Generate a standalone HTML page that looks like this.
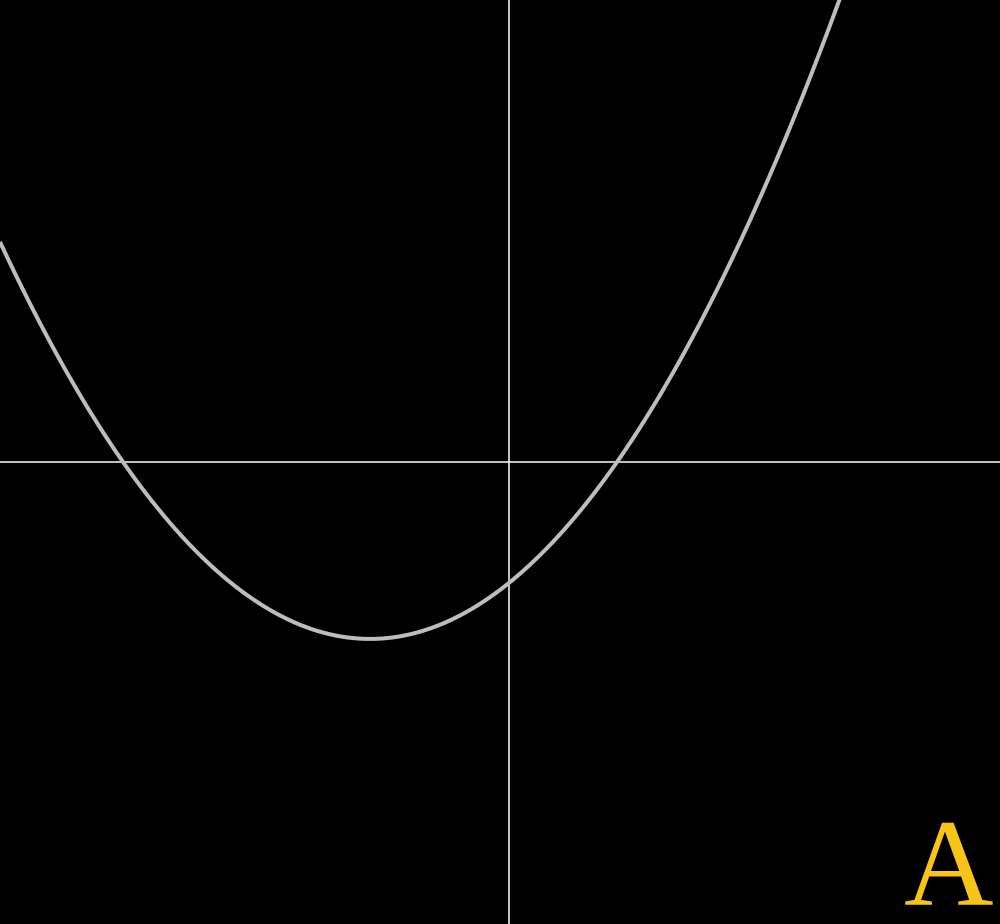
<!DOCTYPE html>
<html><head><meta charset="utf-8"><style>
html,body{margin:0;padding:0;background:#000;}
#wrap{position:relative;width:1000px;height:924px;overflow:hidden;background:#000;}
#label{position:absolute;left:904px;top:802px;font-family:"Liberation Serif",serif;font-size:124px;color:#f7c417;line-height:1;}
</style></head><body>
<div id="wrap">
<svg id="svg" width="1000" height="924">
<line x1="0" y1="462" x2="1000" y2="462" stroke="#fff" stroke-width="1.5"/>
<line x1="509" y1="0" x2="509" y2="924" stroke="#fff" stroke-width="1.5"/>
</svg>
<div id="label">A</div>
</div>
<script>
const roots = [-3.86, 1.08];
const leading = [0.29];
const scale = [100];
const origin = {x: 509, y: 462};
function sx(v){ return origin.x + v * scale[0]; }
function sy(v){ return origin.y - v * scale[0]; }
function f(x){ return leading[0] * (x - roots[0]) * (x - roots[1]); }
const svg = document.getElementById('svg');
let d = '';
const xmin = (0 - origin.x) / scale[0], xmax = (1000 - origin.x) / scale[0];
for (let i = 0; i <= 400; i++) {
  const x = xmin + (xmax - xmin) * i / 400;
  d += (i ? 'L' : 'M') + sx(x).toFixed(2) + ',' + sy(f(x)).toFixed(2);
}
const p = document.createElementNS('http://www.w3.org/2000/svg', 'path');
p.setAttribute('d', d);
p.setAttribute('fill', 'none');
p.setAttribute('stroke', '#bdbdbd');
p.setAttribute('stroke-width', '4');


svg.appendChild(p);
</script>
</body></html>
